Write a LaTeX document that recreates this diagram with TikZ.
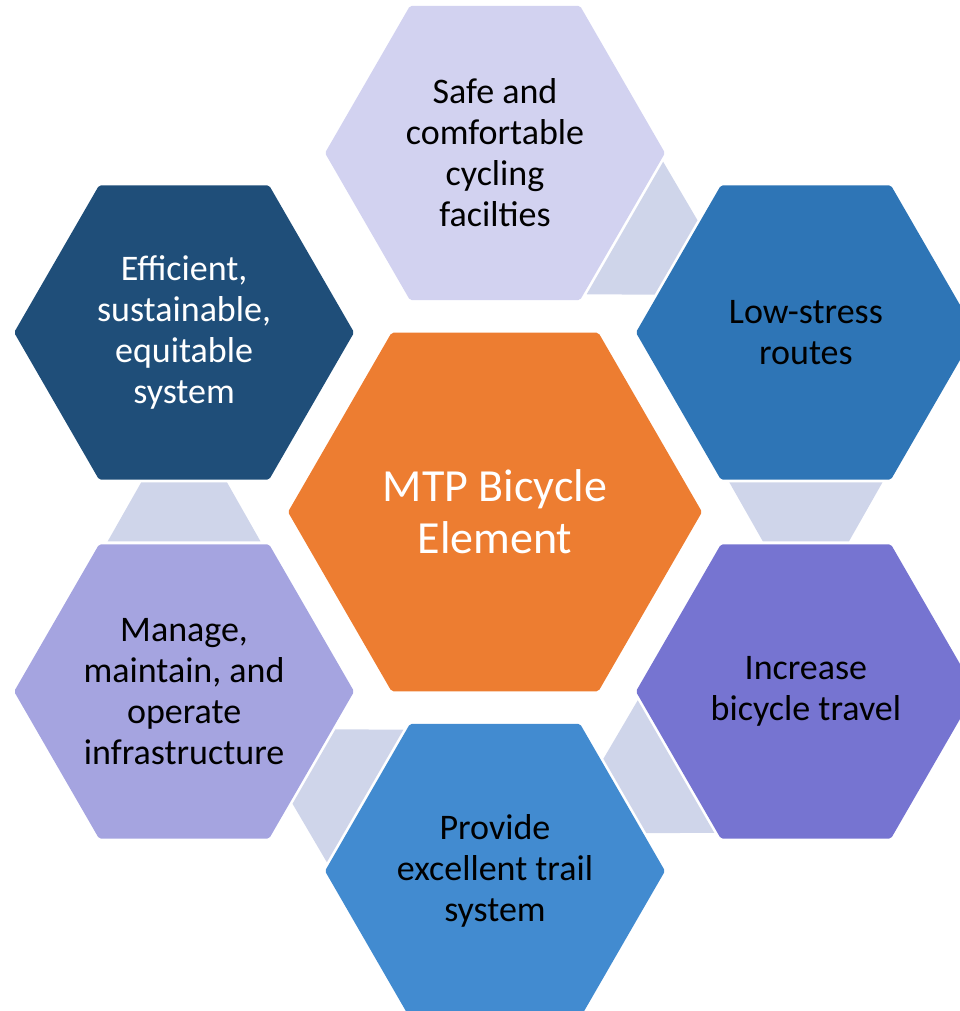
\documentclass[tikz,border=0pt]{standalone}
\usepackage{fontspec}
\setmainfont{Carlito}
\usetikzlibrary{shapes.geometric,calc}
\definecolor{cHub}{HTML}{ED7D31}
\definecolor{cSafe}{HTML}{D2D2F0}
\definecolor{cLow}{HTML}{2E75B6}
\definecolor{cInc}{HTML}{7674D1}
\definecolor{cTrail}{HTML}{428BD0}
\definecolor{cManage}{HTML}{A5A4E0}
\definecolor{cEff}{HTML}{1F4E79}
\definecolor{cLink}{HTML}{CFD5EA}
\tikzset{
  hexsmall/.style={regular polygon, regular polygon sides=6,
    minimum size=340pt, inner sep=0pt, outer sep=0pt, align=center,
    rounded corners=2pt, font=\fontsize{36}{41}\selectfont},
  hexbig/.style={regular polygon, regular polygon sides=6,
    minimum size=414pt, inner sep=0pt, outer sep=0pt, align=center,
    rounded corners=2pt, font=\fontsize{46}{52}\selectfont},
  linkshape/.style={fill=cLink}
}
\begin{document}
\begin{tikzpicture}[x=1pt,y=1pt]
\useasboundingbox (-495,-499) rectangle (464,512);
% hexagons
\node[hexbig, fill=cHub, text=white] (hub) at (0,0) {MTP Bicycle\\Element};
\node[hexsmall, fill=cSafe, text=black] (safe) at (90:359) {Safe and\\comfortable\\cycling\\facilties};
\node[hexsmall, fill=cLow, text=black] (low) at (30:359) {Low-stress\\routes};
\node[hexsmall, fill=cInc, text=black] (inc) at (-30:359) {Increase\\bicycle travel};
\node[hexsmall, fill=cTrail, text=black] (trail) at (-90:359) {Provide\\excellent trail\\system};
\node[hexsmall, fill=cManage, text=black] (manage) at (-150:359) {Manage,\\maintain, and\\operate\\infrastructure};
\node[hexsmall, fill=cEff, text=white] (eff) at (150:359) {Efficient,\\sustainable,\\equitable\\system};
% connector midpoints
\coordinate (m1) at ($(safe)!0.5!(low)$);
\coordinate (m2) at ($(low)!0.5!(inc)$);
\coordinate (m3) at ($(inc)!0.5!(trail)$);
\coordinate (m4) at ($(trail)!0.5!(manage)$);
\coordinate (m5) at ($(manage)!0.5!(eff)$);
% connectors (trapezoids, wide side at the source hexagon)
\fill[linkshape, shift={(m1)}, rotate=60] (-76.5,29.5) -- (76.5,29.5) -- (43,-29.5) -- (-43,-29.5) -- cycle;
\fill[linkshape, shift={(m2)}, rotate=0] (-76.5,29.5) -- (76.5,29.5) -- (43,-29.5) -- (-43,-29.5) -- cycle;
\fill[linkshape, shift={(m3)}, rotate=-60] (-76.5,29.5) -- (76.5,29.5) -- (43,-29.5) -- (-43,-29.5) -- cycle;
\fill[linkshape, shift={(m4)}, rotate=-120] (-76.5,29.5) -- (76.5,29.5) -- (43,-29.5) -- (-43,-29.5) -- cycle;
\fill[linkshape, shift={(m5)}, rotate=-180] (-76.5,29.5) -- (76.5,29.5) -- (43,-29.5) -- (-43,-29.5) -- cycle;
\end{tikzpicture}
\end{document}
